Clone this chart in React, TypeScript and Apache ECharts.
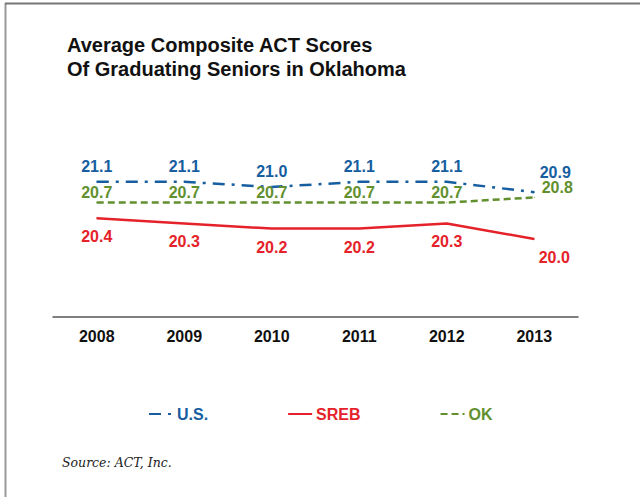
import React, { useEffect, useRef } from "react";
import * as echarts from "echarts";

const years = ["2008", "2009", "2010", "2011", "2012", "2013"];
const usScores = [21.1, 21.1, 21.0, 21.1, 21.1, 20.9];
const srebScores = [20.4, 20.3, 20.2, 20.2, 20.3, 20.0];
const okScores = [20.7, 20.7, 20.7, 20.7, 20.7, 20.8];
const seriesNames = ["U.S.", "SREB", "OK"];

const BLUE = "#165e9f";
const RED = "#e52229";
const GREEN = "#62902e";
const FONT = "'Liberation Sans', Arial, sans-serif";

export default function App() {
  const ref = useRef<HTMLDivElement>(null);
  useEffect(() => {
    if (!ref.current) return;
    const chart = echarts.init(ref.current, undefined, { renderer: "svg" });
    const last = years.length - 1;
    const mk = (vals: number[], lastLabel: any) =>
      vals.map((v, i) => (i === last ? { value: v, label: lastLabel } : v));
    const labelBase = { show: true, fontFamily: FONT, fontWeight: "bold", fontSize: 16, formatter: (p: any) => Number(p.value).toFixed(1) };
    chart.setOption({
      animation: false,
      title: {
        text: "Average Composite ACT Scores\nOf Graduating Seniors in Oklahoma",
        left: 62,
        top: 28,
        textStyle: { fontFamily: FONT, fontWeight: "bold", fontSize: 20, lineHeight: 24, color: "#111" },
      },
      grid: { left: 53, right: 62, top: 135, bottom: 180 },
      xAxis: {
        type: "category",
        data: years,
        boundaryGap: true,
        axisLine: { show: true, lineStyle: { color: "#555", width: 1.5 } },
        axisTick: { show: false },
        axisLabel: { fontFamily: FONT, fontWeight: "bold", fontSize: 16, color: "#111", margin: 11 },
      },
      yAxis: { type: "value", min: 18.5, max: 22, show: false, splitLine: { show: false } },
      legend: {
        left: 148,
        top: 406,
        padding: 0,
        itemWidth: 24,
        itemHeight: 14,
        itemGap: 79,
        data: [
          { name: seriesNames[0], textStyle: { color: BLUE }, itemStyle: { opacity: 0 } },
          { name: seriesNames[1], textStyle: { color: RED }, itemStyle: { opacity: 0 } },
          { name: seriesNames[2], textStyle: { color: GREEN }, itemStyle: { opacity: 0 } },
        ],
        textStyle: { fontFamily: FONT, fontWeight: "bold", fontSize: 16, padding: [0, 0, 0, -1] },
      },
      series: [
        {
          name: seriesNames[0],
          type: "line",
          data: mk(usScores, { position: "top", offset: [21, -4] }),
          symbol: "circle",
          symbolSize: 1,
          color: BLUE,
          lineStyle: { color: BLUE, width: 2.5, type: [12, 7, 3, 7] },
          label: { ...labelBase, color: BLUE, position: "top", distance: 7 },
          z: 3,
        },
        {
          name: seriesNames[1],
          type: "line",
          data: mk(srebScores, { position: "bottom", offset: [20, 0] }),
          symbol: "circle",
          symbolSize: 1,
          color: RED,
          lineStyle: { color: RED, width: 2.5, type: "solid" },
          label: { ...labelBase, color: RED, position: "bottom", distance: 10 },
          z: 2,
        },
        {
          name: seriesNames[2],
          type: "line",
          data: mk(okScores, { position: "top", offset: [23, 1] }),
          symbol: "circle",
          symbolSize: 1,
          color: GREEN,
          lineStyle: { color: GREEN, width: 2.5, type: [7, 4] },
          label: { ...labelBase, color: GREEN, position: "top", distance: 2 },
          z: 4,
        },
      ],
      graphic: [
        { type: "line", shape: { x1: 5.5, y1: 3, x2: 5.5, y2: 497 }, style: { stroke: "#999", lineWidth: 2 } },
        { type: "line", shape: { x1: 5, y1: 3.5, x2: 640, y2: 3.5 }, style: { stroke: "#777", lineWidth: 2 } },
        {
          type: "text",
          left: 62,
          top: 456,
          style: { text: "Source: ACT, Inc.", font: "italic 12.5px 'DejaVu Serif', Georgia, serif", fill: "#222" },
        },
      ],
    });
    return () => chart.dispose();
  }, []);
  return <div ref={ref} style={{ position: "fixed", left: 0, top: 0, width: 640, height: 497, background: "#fff" }} />;
}
